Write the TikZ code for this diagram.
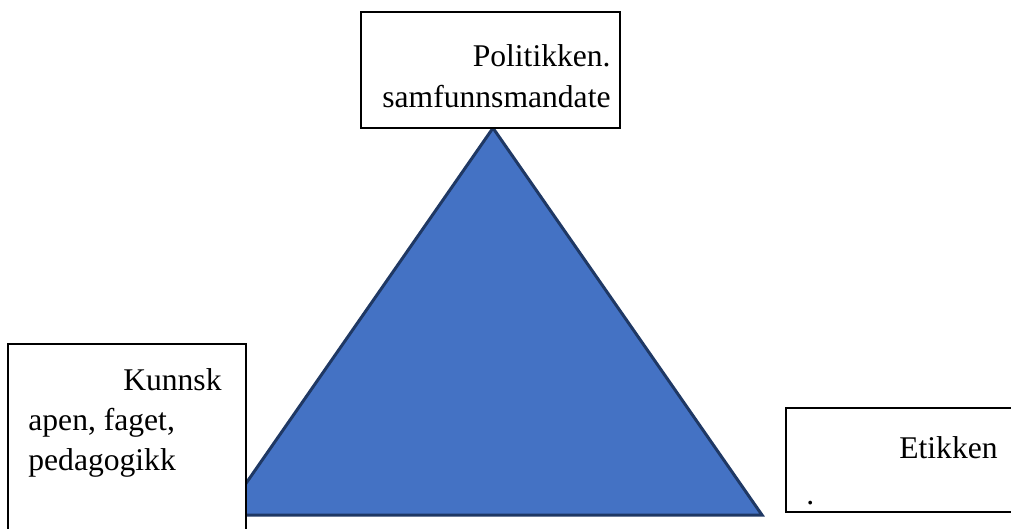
\documentclass[tikz,border=0pt]{standalone}
\usepackage{fontspec}
\setmainfont{Liberation Serif}
\definecolor{tri}{HTML}{4472C4}
\definecolor{triline}{HTML}{1F3864}
\definecolor{ink}{HTML}{000000}

\begin{document}
\begin{tikzpicture}[x=0.5pt,y=-0.5pt,font=\fontsize{15.8}{19}\selectfont,
  box/.style={draw=ink,fill=white,line width=.6pt,inner sep=0pt},
  txt/.style={color=ink,inner sep=0pt}]
\useasboundingbox (0,0) rectangle (1011,529);
\clip (0,0) rectangle (1011,529);
% ---------------- the triangle
\fill[tri,draw=triline,line width=1.5pt,line join=miter]
  (493,128) -- (762,515) -- (224,515) -- cycle;

% ---------------- the three boxes
\node[box,minimum width=129.5pt,minimum height=58pt]  (politikk) at (490.5,70)  {};
\node[box,minimum width=119pt,minimum height=100.5pt] (kunnskap) at (127,444.5) {};
\node[box,minimum width=117pt,minimum height=52pt]    (etikk)    at (903,460)   {};

% ---------------- texts
\node[txt,anchor=base east] (pol1) at (611,67)  {Politikken.};
\node[txt,anchor=base west] (pol2) at (382,108) {samfunnsmandate};
\node[txt,anchor=base east] (kun1) at (222,390) {Kunnsk};
\node[txt,anchor=base west] (kun2) at (28,430)  {apen, faget,};
\node[txt,anchor=base west] (kun3) at (28,470)  {pedagogikk};
\node[txt,anchor=base east] (eti1) at (998,458) {Etikken};
\node[txt,anchor=base west] (eti2) at (806,504) {.};
\end{tikzpicture}
\end{document}
